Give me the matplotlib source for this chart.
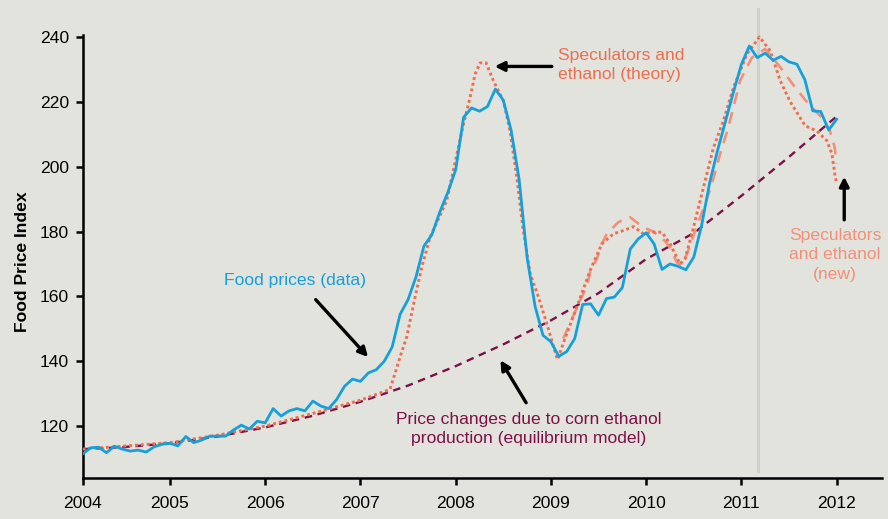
import numpy as np
import matplotlib
matplotlib.use('Agg')
from matplotlib import pyplot as plt

# monthly food price index, Jan 2004 .. Dec 2011
food = [111.4, 113.3, 113.5, 111.8, 113.8, 112.9, 112.3, 112.6, 112.0, 113.6, 114.4, 114.7,
        113.9, 116.8, 114.9, 115.7, 116.9, 116.9, 116.9, 118.8, 120.3, 119.1, 121.5, 121.0,
        125.4, 123.1, 124.7, 125.4, 124.7, 127.7, 126.2, 125.4, 128.2, 132.3, 134.5, 133.8,
        136.4, 137.4, 140.0, 144.4, 154.5, 159.0, 166.0, 175.5, 179.0, 186.0, 192.0, 199.0,
        215.2, 218.1, 217.1, 218.5, 223.9, 220.5, 211.1, 196.0, 172.0, 157.0, 148.0, 146.0,
        141.5, 143.0, 147.0, 157.5, 157.7, 154.2, 159.3, 159.8, 162.7, 174.6, 177.7, 179.6,
        176.2, 168.3, 170.0, 169.3, 168.2, 172.1, 182.0, 195.0, 205.0, 214.0, 223.0, 231.5,
        237.2, 233.6, 235.0, 232.8, 234.0, 232.3, 231.6, 226.8, 217.2, 217.0, 211.3, 214.6]
food_x = 2004 + (np.arange(len(food)) + 1) / 12

# equilibrium model (corn ethanol only)
eq_x = [2004.083, 2004.5, 2005.0, 2005.5, 2006.0, 2006.5, 2007.0, 2007.5, 2008.0,
        2008.5, 2009.0, 2009.5, 2010.0, 2010.5, 2011.0, 2011.5, 2012.0]
eq_y = [112.9, 113.5, 114.7, 116.8, 119.6, 123.2, 127.5, 132.5, 138.5,
        145.2, 152.6, 161.0, 171.5, 179.5, 191.0, 203.0, 215.5]

# speculators and ethanol (theory)
th_x = [2004.083, 2005.0, 2005.5, 2006.0, 2006.5, 2007.0, 2007.31, 2007.416, 2007.486,
        2007.574, 2007.644, 2007.731, 2007.906, 2008.081, 2008.151, 2008.204, 2008.256,
        2008.319, 2008.396, 2008.501, 2008.571, 2008.642, 2008.705, 2008.782, 2008.869,
        2008.957, 2009.068, 2009.167, 2009.272, 2009.412, 2009.535, 2009.657, 2009.762,
        2009.867, 2009.972, 2010.06, 2010.165, 2010.252, 2010.357, 2010.41, 2010.48,
        2010.567, 2010.707, 2010.812, 2010.917, 2011.058, 2011.19, 2011.303, 2011.408,
        2011.513, 2011.67, 2011.793, 2011.898, 2011.951, 2011.986, 2012.003]
th_y = [112.9, 114.9, 117.2, 120.0, 123.9, 128.0, 131.3, 141.3, 147.5,
        159.8, 169.0, 178.2, 189.5, 213.0, 221.3, 228.5, 232.0,
        232.0, 226.5, 220.3, 211.0, 196.7, 181.3, 167.0, 159.8,
        151.6, 140.5, 148.5, 156.7, 168.0, 176.2, 179.3, 180.3,
        181.5, 179.3, 179.8, 179.8, 176.2, 170.0, 171.6, 179.3,
        189.5, 205.9, 214.2, 224.4, 234.7, 240.0, 235.7, 226.5,
        220.0, 212.6, 211.0, 208.0, 203.9, 196.7, 194.7]

# speculators and ethanol (new)
new_x = [2009.13, 2009.307, 2009.377, 2009.412, 2009.482, 2009.535, 2009.587, 2009.709,
         2009.832, 2009.968, 2010.074, 2010.2, 2010.252, 2010.322, 2010.375, 2010.441,
         2010.515, 2010.62, 2010.69, 2010.777, 2010.864, 2010.987, 2011.11, 2011.25,
         2011.4, 2011.55, 2011.7, 2011.85, 2011.93, 2011.98, 2012.0]
new_y = [147.0, 158.8, 162.9, 167.5, 171.6, 176.2, 179.3, 182.9,
         184.4, 181.3, 180.0, 177.0, 175.0, 170.5, 169.5, 174.0,
         180.3, 188.5, 194.7, 203.9, 212.2, 226.5, 233.6, 236.3,
         231.0, 225.0, 219.5, 215.0, 211.0, 205.9, 201.0]

years = list(range(2004, 2013))
yticks = [120, 140, 160, 180, 200, 220, 240]
marker_year = 2011.17

bg = '#e3e3de'
blue = '#14a0dc'
coral = '#ee6e4e'
salmon = '#f29079'
maroon = '#7d1046'

plt.rcParams['font.family'] = ['Liberation Sans', 'DejaVu Sans']

fig = plt.figure(figsize=(8.88, 5.19), dpi=100, facecolor=bg)
ax = fig.add_axes([0.0931, 0.079, 0.9005, 0.8536], facecolor=bg)

ax.set_xlim(food_x[0], 2012.48)
ax.set_ylim(104, 240.6)

ax.axvline(marker_year, ymin=0.016, ymax=1.058, color='#cfcfcc', lw=2.2, clip_on=False, zorder=0)

ax.plot(eq_x, eq_y, color=maroon, lw=1.7, linestyle=(0, (3.2, 2.4)), zorder=2)
ax.plot(new_x, new_y, color=salmon, lw=1.9, linestyle=(0, (4.5, 3.2)), zorder=3)
ax.plot(th_x, th_y, color=coral, lw=2.1, linestyle=(0, (1, 1.0)), zorder=4)
ax.plot(food_x, food, color=blue, lw=2.0, zorder=5)

for s in ['top', 'right']:
    ax.spines[s].set_visible(False)
for s in ['left', 'bottom']:
    ax.spines[s].set_linewidth(1.8)

ax.set_xticks([food_x[0]] + years[1:])
ax.set_xticklabels([str(y) for y in years])
ax.set_yticks(yticks)
ax.tick_params(axis='both', direction='out', length=5, width=1.8, labelsize=12.6)
ax.tick_params(axis='x', pad=8)
ax.tick_params(axis='y', pad=5)

ax.set_ylabel('Food Price Index', fontsize=12.6, fontweight='bold')
ax.yaxis.set_label_coords(-0.066, 0.488)

arrow = dict(arrowstyle='-|>,head_length=0.55,head_width=0.28', color='black', lw=2.4,
             shrinkA=0, shrinkB=0)

ax.text(2006.31, 164.9, 'Food prices (data)', color=blue, fontsize=12.6, ha='center', va='center')
ax.annotate('', xy=(2007.08, 141.3), xytext=(2006.53, 159.0), arrowprops=arrow)

ax.text(2009.07, 231.4, 'Speculators and\nethanol (theory)', color=coral, fontsize=12.6,
        ha='left', va='center', linespacing=1.38)
ax.annotate('', xy=(2008.41, 230.9), xytext=(2009.01, 230.9), arrowprops=arrow)

ax.text(2011.985, 172.8, 'Speculators\nand ethanol\n(new)', color=salmon, fontsize=12.6,
        ha='center', va='center', multialignment='center', linespacing=1.38)
ax.annotate('', xy=(2012.08, 196.9), xytext=(2012.08, 183.6), arrowprops=arrow)

ax.text(2008.77, 119.1, 'Price changes due to corn ethanol\nproduction (equilibrium model)',
        color=maroon, fontsize=12.6, ha='center', va='center', multialignment='center',
        linespacing=1.38)
ax.annotate('', xy=(2008.47, 140.3), xytext=(2008.74, 127.2), arrowprops=arrow)

fig.savefig('out.png', dpi=100, facecolor=bg)
